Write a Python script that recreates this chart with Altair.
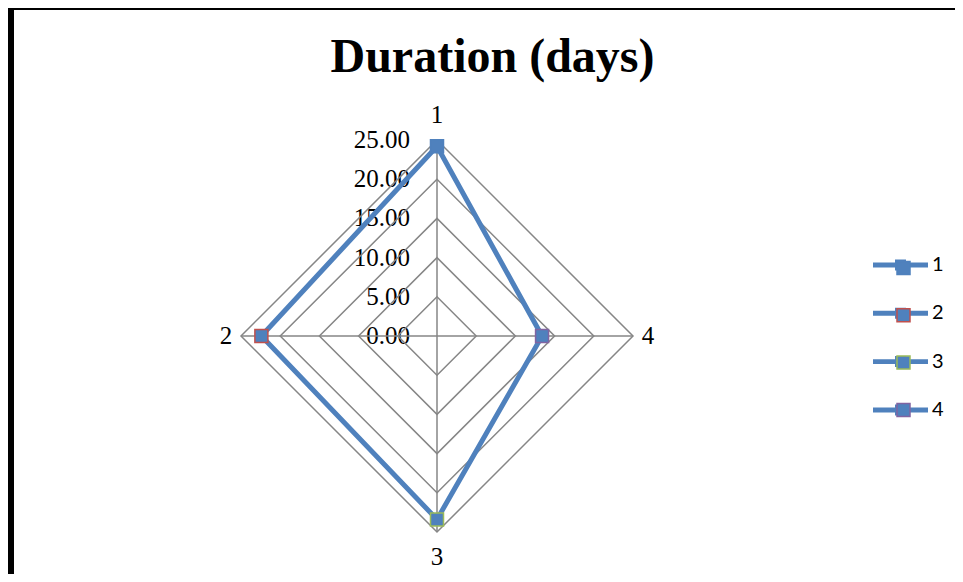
import altair as alt
import pandas as pd

# ---------------- data ----------------
title_text = "Duration (days)"
categories = ["1", "2", "3", "4"]
values = [24.2, 22.4, 23.4, 13.4]
levels = [0, 5, 10, 15, 20, 25]
marker_edge_colors = ["#4F81BD", "#C0504D", "#9BBB59", "#8064A2"]
series_color = "#4F81BD"
grid_color = "#868686"

# ---------------- layout ----------------
W, H = 947, 566
PPU = 7.84            # pixels per data unit
CX, CY = 429, 328     # centre of radar in plot coords
x_dom = [-CX / PPU, (W - CX) / PPU]
y_dom = [-(H - CY) / PPU, CY / PPU]
N = len(categories)
RMAX = max(levels)

xs = alt.Scale(domain=x_dom, nice=False, zero=False)
ys = alt.Scale(domain=y_dom, nice=False, zero=False)
X = alt.X("px:Q", scale=xs, axis=None)
Y = alt.Y("py:Q", scale=ys, axis=None)

edge_keys = ["edge " + c for c in categories]
points = pd.DataFrame({"cat": categories, "value": values, "idx": list(range(N)),
                       "cat_s": edge_keys})
rings = pd.DataFrame([{"level": l, "idx": i} for l in levels for i in range(N)])
spokes = pd.DataFrame({"cat": categories, "idx": list(range(N))})
level_df = pd.DataFrame({"level": levels, "idx": [0] * len(levels)})
title_df = pd.DataFrame({"title": [title_text]})


def polar(chart, r_expr):
    return chart.transform_calculate(
        theta=f"datum.idx * 2 * PI / {N}"
    ).transform_calculate(
        px=f"-({r_expr}) * sin(datum.theta)",
        py=f"({r_expr}) * cos(datum.theta)",
    )


serif = "Liberation Serif"

level_labels = polar(alt.Chart(level_df), "datum.level").mark_text(
    align="right", baseline="middle", dx=-27, font=serif, fontSize=25, color="black"
).encode(x=X, y=Y, text=alt.Text("level:Q", format=".2f"))

ring_lines = polar(alt.Chart(rings), "datum.level").mark_line(
    interpolate="linear-closed", color=grid_color, strokeWidth=1.5
).encode(x=X, y=Y, detail="level:N", order="idx:Q")

spoke_lines = polar(alt.Chart(spokes), str(RMAX)).transform_calculate(
    ox="0", oy="0"
).mark_rule(color=grid_color, strokeWidth=1.5).encode(
    x=alt.X("ox:Q", scale=xs, axis=None),
    y=alt.Y("oy:Q", scale=ys, axis=None),
    x2="px:Q",
    y2="py:Q",
)

data_line = polar(alt.Chart(points), "datum.value").mark_line(
    interpolate="linear-closed", color=series_color, strokeWidth=5
).encode(x=X, y=Y, order="idx:Q")

line_symbol = (
    "M-1,-0.09 L1,-0.09 L1,0.09 L-1,0.09 Z "
    "M-0.2,-0.2 L0.2,-0.2 L0.2,0.2 L-0.2,0.2 Z"
)

data_points = polar(alt.Chart(points), "datum.value").mark_point(
    shape="square", size=169, filled=True, opacity=1, strokeWidth=1.5
).encode(
    x=X,
    y=Y,
    fill=alt.Fill(
        "cat:N",
        scale=alt.Scale(domain=categories, range=[series_color] * N),
        legend=alt.Legend(
            title=None, orient="none", legendX=865, legendY=229.5, padding=0,
            symbolType=line_symbol, symbolSize=3025, symbolStrokeWidth=0,
            symbolOpacity=1, labelFont="Lato", labelFontSize=20,
            labelColor="black", labelOffset=4, rowPadding=10.3,
        ),
    ),
    stroke=alt.Stroke(
        "cat_s:N",
        scale=alt.Scale(domain=edge_keys, range=marker_edge_colors),
        legend=alt.Legend(
            title=None, orient="none", legendX=885.5, legendY=250, padding=0,
            symbolType="square", symbolSize=169, symbolStrokeWidth=1.5,
            symbolFillColor=series_color, symbolOpacity=1,
            labelFontSize=20, labelExpr="''", labelOffset=0,
            rowPadding=27.3,
        ),
    ),
)

cat_labels = polar(
    alt.Chart(spokes), f"{RMAX} + 1.9 + 1.3 * abs(cos(datum.theta))"
).mark_text(
    align="center", baseline="middle", font=serif, fontSize=25, color="black"
).encode(x=X, y=Y, text="cat:N")

title = alt.Chart(title_df).mark_text(
    align="center", baseline="alphabetic", font=serif, fontSize=48,
    fontWeight="bold", color="black"
).encode(x=alt.value(484.5), y=alt.value(64), text="title:N")

border_left = alt.Chart(title_df).mark_rule(color="black", strokeWidth=6).encode(
    x=alt.value(3), y=alt.value(0), y2=alt.value(H)
)
border_top = alt.Chart(title_df).mark_rule(color="black", strokeWidth=4).encode(
    x=alt.value(0), x2=alt.value(W), y=alt.value(0)
)

chart = alt.layer(
    level_labels, ring_lines, spoke_lines, data_line, data_points,
    cat_labels, title, border_left, border_top
).resolve_scale(fill="independent", stroke="independent").properties(
    width=W, height=H, autosize=alt.AutoSizeParams(type="none"), padding=0,
    background="white"
).configure_view(strokeWidth=0)

chart.save("out.html", embed_options={"renderer": "svg", "actions": False})
